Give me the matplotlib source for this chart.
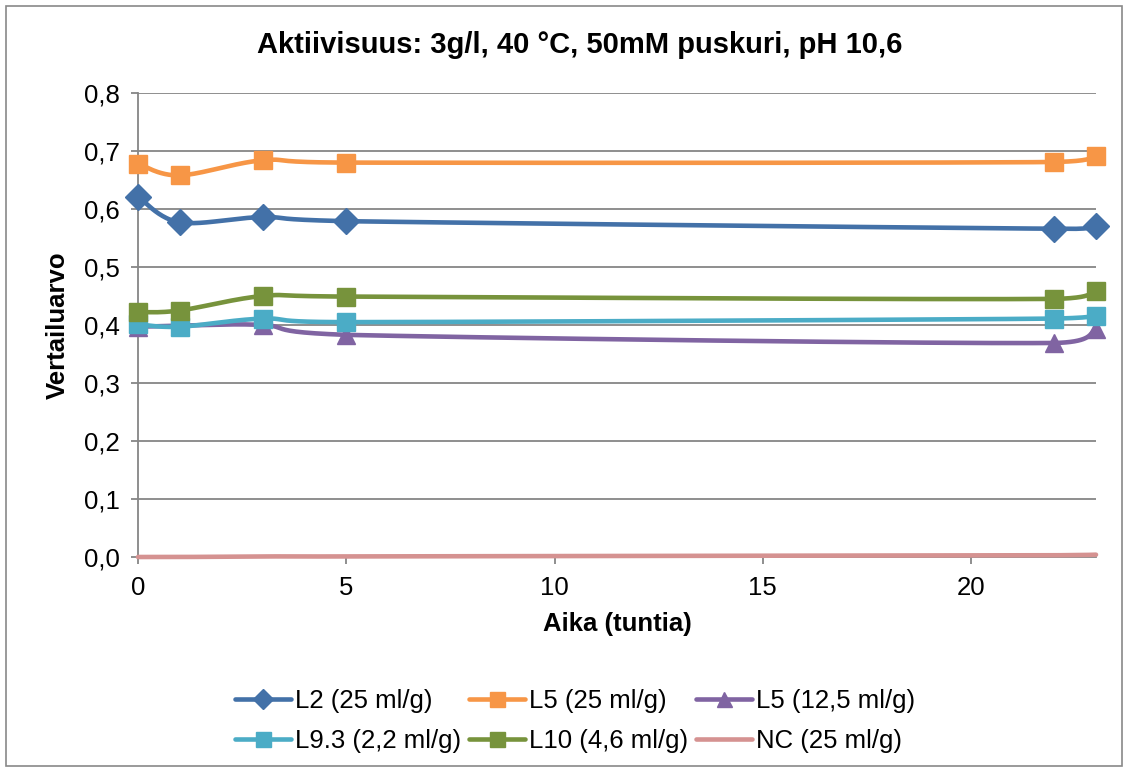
import numpy as np
import matplotlib
matplotlib.use("Agg")
import matplotlib.pyplot as plt
from matplotlib.patches import Rectangle
from matplotlib.lines import Line2D
from matplotlib.ticker import FuncFormatter

plt.rcParams['font.family'] = ['Liberation Sans', 'DejaVu Sans']

# =============================================================================
# Data
# =============================================================================
hours = [0, 1, 3, 5, 22, 23]
l2_25 = [0.621, 0.577, 0.586, 0.579, 0.566, 0.570]
l5_25 = [0.678, 0.658, 0.684, 0.680, 0.681, 0.691]
l5_125 = [0.397, 0.399, 0.400, 0.383, 0.369, 0.393]
l93_22 = [0.401, 0.397, 0.411, 0.405, 0.411, 0.416]
l10_46 = [0.422, 0.425, 0.450, 0.449, 0.445, 0.459]
nc_25 = [0.000, 0.000, 0.001, 0.001, 0.003, 0.004]

labels = ["L2 (25 ml/g)", "L5 (25 ml/g)", "L5 (12,5 ml/g)",
          "L9.3 (2,2 ml/g)", "L10 (4,6 ml/g)", "NC (25 ml/g)"]
y_ticks = [0.0, 0.1, 0.2, 0.3, 0.4, 0.5, 0.6, 0.7, 0.8]
x_ticks = [0, 5, 10, 15, 20]

series = [
    (l2_25, '#4371A8', 'D', 13),
    (l5_25, '#F79646', 's', 13.5),
    (l5_125, '#8064A2', '^', 13.5),
    (l93_22, '#4BACC6', 's', 13.5),
    (l10_46, '#77933C', 's', 13.5),
    (nc_25, '#D59291', None, 0),
]


def smooth(x, y, n=40):
    """Excel-style smoothed line (Catmull-Rom as cubic Bezier pieces)."""
    x = np.asarray(x, float)
    y = np.asarray(y, float)
    px = np.concatenate([[x[0]], x, [x[-1]]])
    py = np.concatenate([[y[0]], y, [y[-1]]])
    t = np.linspace(0, 1, n)
    xs, ys = [], []
    for i in range(1, len(px) - 2):
        x0, y0 = px[i], py[i]
        x3, y3 = px[i + 1], py[i + 1]
        x1 = x0 + (px[i + 1] - px[i - 1]) / 6
        y1 = y0 + (py[i + 1] - py[i - 1]) / 6
        x2 = x3 - (px[i + 2] - px[i]) / 6
        y2 = y3 - (py[i + 2] - py[i]) / 6
        x1 = min(max(x1, x0), x3)
        x2 = min(max(x2, x0), x3)
        b = [(1 - t) ** 3, 3 * (1 - t) ** 2 * t, 3 * (1 - t) * t ** 2, t ** 3]
        xs.append(b[0] * x0 + b[1] * x1 + b[2] * x2 + b[3] * x3)
        ys.append(b[0] * y0 + b[1] * y1 + b[2] * y2 + b[3] * y3)
    return np.concatenate(xs), np.concatenate(ys)


# =============================================================================
# Figure
# =============================================================================
W, H = 1128, 772
fig = plt.figure(figsize=(W / 100, H / 100), dpi=100)
fig.patches.append(Rectangle((6 / W, 6 / H), (W - 12) / W, (H - 12) / H,
                             transform=fig.transFigure, fill=False,
                             edgecolor='#898989', linewidth=1.2))

ax = fig.add_axes([138 / W, 1 - 557 / H, (1096 - 138) / W, (557 - 93) / H])
grid_c = '#868686'

handles = []
for (vals, color, marker, ms) in series:
    sx, sy = smooth(hours, vals)
    ax.plot(sx, sy, color=color, linewidth=3.3, solid_capstyle='round',
            zorder=3, clip_on=False)
    if marker:
        ax.plot(hours, vals, linestyle='none', marker=marker, markersize=ms,
                color=color, markeredgecolor=color, zorder=4, clip_on=False)
    handles.append(Line2D([], [], color=color, linewidth=3.3,
                          marker=marker if marker else None,
                          markersize=ms * 0.8, solid_capstyle='round'))

ax.set_xlim(0, 23)
ax.set_ylim(0, 0.8)
ax.set_xticks(x_ticks)
ax.set_yticks(y_ticks)
ax.yaxis.set_major_formatter(FuncFormatter(lambda v, p: f"{v:.1f}".replace('.', ',')))
ax.grid(axis='y', color=grid_c, linewidth=1.3)
ax.set_axisbelow(True)
for s in ['top', 'right']:
    ax.spines[s].set_visible(False)
for s in ['left', 'bottom']:
    ax.spines[s].set_color(grid_c)
    ax.spines[s].set_linewidth(1.3)
ax.tick_params(axis='both', direction='out', length=5, width=1.3,
               color=grid_c, labelsize=18.5, labelcolor='black')
ax.tick_params(axis='y', pad=8)
ax.tick_params(axis='x', pad=9)

ax.set_xlabel("Aika (tuntia)", fontsize=18.5, fontweight='bold', labelpad=8)
ax.set_ylabel("Vertailuarvo", fontsize=18.5, fontweight='bold', labelpad=10)

fig.text(580 / W, 1 - 45 / H, "Aktiivisuus: 3g/l, 40 °C, 50mM puskuri, pH 10,6",
         fontsize=21, fontweight='bold', ha='center', va='center')

# legend: row order L2, L5, L5 / L9.3, L10, NC
order = [0, 3, 1, 4, 2, 5]
fig.legend([handles[i] for i in order], [labels[i] for i in order],
           loc='center', bbox_to_anchor=(575 / W, 1 - 721 / H), ncol=3,
           frameon=False, fontsize=18.5, handlelength=2.2, handletextpad=0.15,
           columnspacing=0.3, labelspacing=0.6, borderpad=0)

fig.savefig("out.png", dpi=100)
